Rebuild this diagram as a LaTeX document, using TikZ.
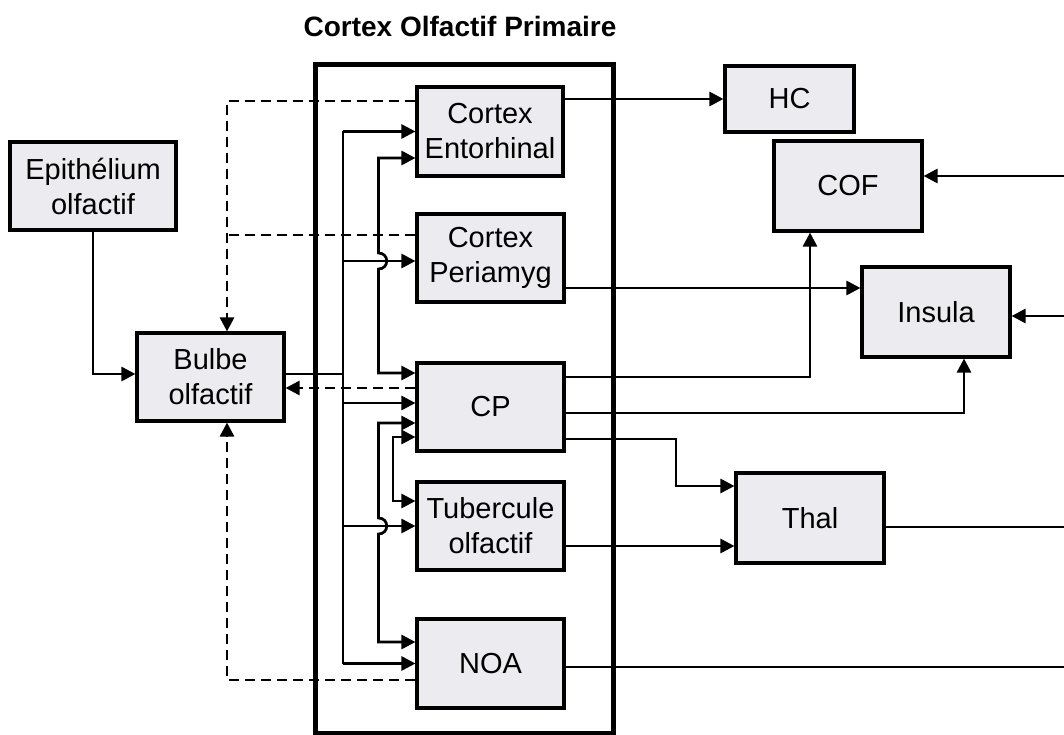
\documentclass[tikz,border=0pt]{standalone}
\usepackage{fontspec}
\setmainfont{Liberation Sans}
\usetikzlibrary{arrows.meta}
\definecolor{boxfill}{RGB}{236,236,240}
\begin{document}
\begin{tikzpicture}[x=1pt,y=-1pt,
  blk/.style={draw=black,line width=3.1pt,fill=boxfill,align=center,
    font=\fontsize{29}{35}\selectfont,inner sep=0pt},
  arr/.style={line width=2.7pt,-{Triangle[length=14pt,width=14pt]}},
  darr/.style={line width=2.7pt,-{Triangle[length=14pt,width=14pt]},dash pattern=on 10pt off 6pt},
  barr/.style={line width=2.7pt,{Triangle[length=14pt,width=14pt]}-{Triangle[length=14pt,width=14pt]}},
  ln/.style={line width=2.7pt},
  dln/.style={line width=2.7pt,dash pattern=on 10pt off 6pt}]
\useasboundingbox (0,0) rectangle (1064,735);
% title and frame
\node[font=\fontsize{28}{34}\selectfont\bfseries] (title) at (460,26) {Cortex Olfactif Primaire};
\draw[line width=5pt] (315,65) rectangle (613,733);
% boxes
\node[blk,minimum width=166pt,minimum height=88pt] (epi) at (93,186) {Epithélium\\olfactif};
\node[blk,minimum width=147pt,minimum height=88pt] (bulb) at (210.5,377) {Bulbe\\olfactif};
\node[blk,minimum width=146pt,minimum height=89pt] (ent) at (490,131.5) {Cortex\\Entorhinal};
\node[blk,minimum width=147pt,minimum height=88pt] (per) at (490.5,258) {Cortex\\Periamyg};
\node[blk,minimum width=147pt,minimum height=88pt] (cp) at (490.5,407) {CP};
\node[blk,minimum width=147pt,minimum height=88pt] (tub) at (490.5,526) {Tubercule\\olfactif};
\node[blk,minimum width=147pt,minimum height=89pt] (noa) at (490.5,663.5) {NOA};
\node[blk,minimum width=129pt,minimum height=66pt] (hc) at (789.5,99) {HC};
\node[blk,minimum width=148pt,minimum height=90pt] (cof) at (848,186) {COF};
\node[blk,minimum width=148pt,minimum height=90pt] (ins) at (936,312) {Insula};
\node[blk,minimum width=148pt,minimum height=90pt] (thal) at (810,518) {Thal};
% helper coordinates
\coordinate (bA) at ([yshift=3pt]bulb.west);
\coordinate (bOut) at ([yshift=3pt]bulb.east);
\coordinate (bIn) at ([yshift=-11pt]bulb.east);
\coordinate (bTop) at ([xshift=16.5pt]bulb.north);
\coordinate (bBot) at ([xshift=16.5pt]bulb.south);
\coordinate (T1) at (343,0);
\coordinate (T2) at (378.5,0);
\coordinate (T3) at (393,0);
\coordinate (D) at (227,0);
\coordinate (R) at (1064,0);
% Epithelium -> Bulbe
\draw[arr] (epi.south) |- (bA);
% Bulbe -> trunk
\draw[ln] (bOut) -- (T1 |- bOut);
\draw[ln] (T1 |- ent.west) -- (T1 |- noa.west);
\draw[arr] (T1 |- ent.west) -- (ent.west);
\coordinate (perA) at ([yshift=-3pt]per.west);
\draw[arr] (T1 |- perA) -- (perA);
\coordinate (cpA) at ([yshift=4pt]cp.west);
\draw[arr] (T1 |- cpA) -- (cpA);
\draw[arr] (T1 |- tub.west) -- (tub.west);
\draw[arr] (T1 |- noa.west) -- (noa.west);
% Entorhinal <-> CP (with hop)
\coordinate (entB) at ([yshift=-26.5pt]ent.west);
\coordinate (cpB) at ([yshift=34pt]cp.west);
\draw[barr] (entB) -- (T2 |- entB) -- ([yshift=8pt]T2 |- perA)
  .. controls ([xshift=11pt,yshift=8pt]T2 |- perA) and ([xshift=11pt,yshift=-8pt]T2 |- perA) .. ([yshift=-8pt]T2 |- perA)
  -- (T2 |- cpB) -- (cpB);
% CP <-> NOA (with hop)
\coordinate (cpC) at ([yshift=-16pt]cp.west);
\coordinate (noaC) at ([yshift=21.5pt]noa.west);
\draw[barr] (cpC) -- (T2 |- cpC) -- ([yshift=8pt]T2 |- tub.west)
  .. controls ([xshift=11pt,yshift=8pt]T2 |- tub.west) and ([xshift=11pt,yshift=-8pt]T2 |- tub.west) .. ([yshift=-8pt]T2 |- tub.west)
  -- (T2 |- noaC) -- (noaC);
% CP <-> Tubercule
\coordinate (cpD) at ([yshift=-30pt]cp.west);
\coordinate (tubD) at ([yshift=25pt]tub.west);
\draw[barr] (cpD) -- (T3 |- cpD) -- (T3 |- tubD) -- (tubD);
% dashed feedback to Bulbe
\coordinate (entE) at ([yshift=30.5pt]ent.west);
\coordinate (perE) at ([yshift=23pt]per.west);
\coordinate (cpE) at ([yshift=19pt]cp.west);
\coordinate (noaE) at ([yshift=-16.5pt]noa.west);
\draw[darr] (entE) -- (D |- entE) -- (bTop);
\draw[dln] (perE) -- (D |- perE);
\draw[darr] (cpE) -- (bIn);
\draw[darr] (noaE) -- (D |- noaE) -- (bBot);
% outputs
\draw[arr] (ent.east |- hc.west) -- (hc.west);
\coordinate (cofR) at ([yshift=10pt]cof.east);
\draw[arr] (R |- cofR) -- (cofR);
\coordinate (insR) at ([yshift=-4pt]ins.east);
\draw[arr] (R |- insR) -- (insR);
\coordinate (insL) at ([yshift=24pt]ins.west);
\draw[arr] (per.east |- insL) -- (insL);
\coordinate (cpF) at ([yshift=30pt]cp.east);
\draw[arr] (cpF) -| ([xshift=-38pt]cof.south);
\coordinate (cpG) at ([yshift=-6pt]cp.east);
\draw[arr] (cpG) -| ([xshift=28pt]ins.south);
\coordinate (cpH) at ([yshift=-32pt]cp.east);
\coordinate (thA) at ([yshift=32pt]thal.west);
\draw[arr] (cpH) -- (676,0 |- cpH) -- (676,0 |- thA) -- (thA);
\coordinate (tubF) at ([yshift=-20pt]tub.east);
\draw[arr] (tubF) -- (thal.west |- tubF);
\coordinate (thR) at ([yshift=-9pt]thal.east);
\draw[ln] (thR) -- (R |- thR);
\coordinate (noaR) at ([yshift=-3.5pt]noa.east);
\draw[ln] (noaR) -- (R |- noaR);
\end{tikzpicture}
\end{document}
